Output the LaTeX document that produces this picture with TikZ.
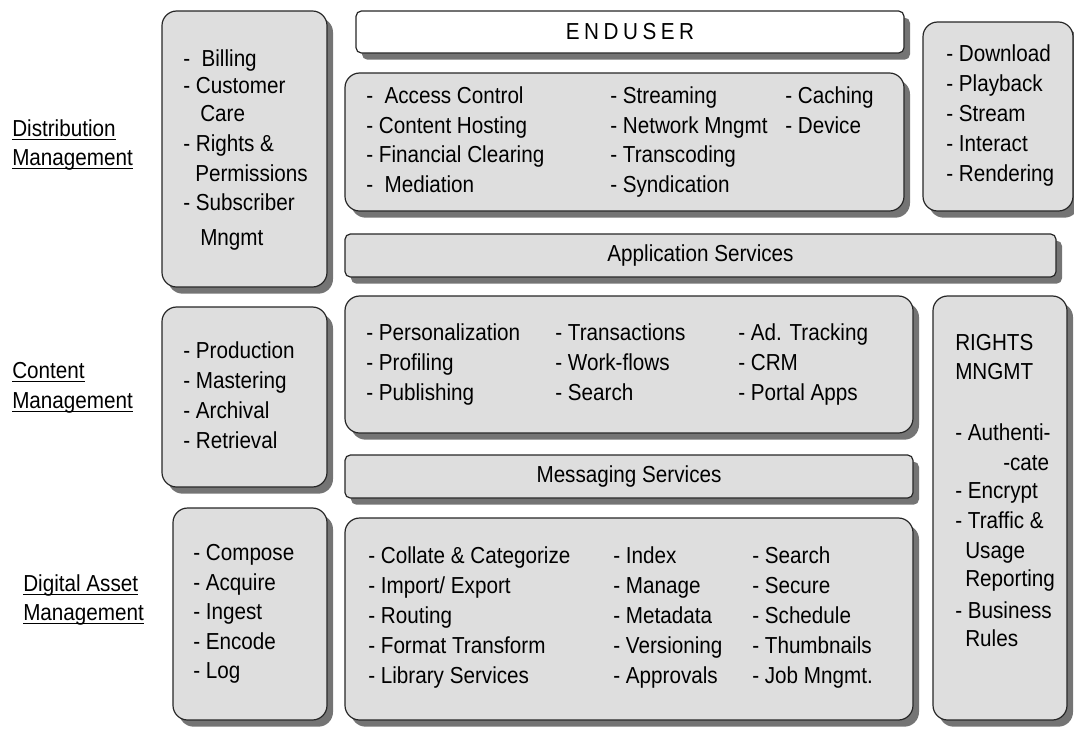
\documentclass[tikz,border=0pt]{standalone}
\usepackage{fontspec}
\setmainfont{Liberation Sans}
\usetikzlibrary{fit,shadows}
\definecolor{panelgray}{HTML}{DEDEDE}
\definecolor{shadowgray}{HTML}{747474}
\newcommand\undl[1]{{\setbox0\hbox{#1}\rlap{\rule[-2.2pt]{\wd0}{0.7pt}}\box0}}
\tikzset{
  panel/.style={draw=black!85, line width=0.9pt, fill=panelgray, rounded corners=11pt, inner sep=0pt,
    drop shadow={shadow xshift=4.5pt, shadow yshift=-5pt, fill=shadowgray, opacity=1}},
  bar/.style={panel, rounded corners=4pt},
  item/.style={anchor=mid west, inner sep=0pt, font=\fontsize{15.5}{18}\selectfont, yscale=1.12},
  heading/.style={item, anchor=center},
  sidelabel/.style={item}
}
\begin{document}
\begin{tikzpicture}[x=0.75pt,y=-0.75pt]
\useasboundingbox (0,0) rectangle (1074,729);

% boxes
\node[panel, fit={(162,11) (327,287)}] (distbox) {};
\node[panel, fit={(162,307) (327,487)}] (cmbox) {};
\node[panel, fit={(173,508) (327,720)}] (dambox) {};
\node[bar, fill=white, fit={(356,11) (904,53)}] (userbox) {};
\node[panel, fit={(345,73) (904,211)}] (svcbox) {};
\node[bar, fit={(345,234) (1056,277)}] (appbox) {};
\node[panel, fit={(923,22) (1073,211)}] (playbox) {};
\node[panel, fit={(345,296) (913,433)}] (portalbox) {};
\node[bar, fit={(345,455) (913,498)}] (msgbox) {};
\node[panel, fit={(345,518) (913,720)}] (assetbox) {};
\node[panel, fit={(933,296) (1067,720)}] (rightsbox) {};

% layer names
\node[sidelabel] (distA) at (12,133) {\undl{Distribution}};
\node[sidelabel] (distB) at (12,162) {\undl{Management}};
\node[sidelabel] (cmA) at (12,375) {\undl{Content}};
\node[sidelabel] (cmB) at (12,405) {\undl{Management}};
\node[sidelabel] (damA) at (23,588) {\undl{Digital Asset}};
\node[sidelabel] (damB) at (23,617) {\undl{Management}};

% distribution
\node[item] (dist1) at (183,63) {- \ Billing};
\node[item] (dist2) at (183,90) {- Customer};
\node[item] (dist3) at (200,118) {Care};
\node[item] (dist4) at (183,148) {- Rights \&};
\node[item] (dist5) at (195,178) {Permissions};
\node[item] (dist6) at (183,207) {- Subscriber};
\node[item] (dist7) at (200,242) {Mngmt};

\foreach \t [count=\i from 0] in {Production,Mastering,Archival,Retrieval}
  \node[item] (cm\i) at (183,{355+30*\i}) {- \t};
\foreach \t [count=\i from 0] in {Compose,Acquire,Ingest,Encode,Log}
  \node[item] (dam\i) at (193,{557+29.5*\i}) {- \t};

% enduser and services
\node[heading] (user) at (userbox.center) {E\kern3.4pt N\kern3.4pt D\kern3.4pt U\kern3.4pt S\kern3.4pt E\kern3.4pt R};
\foreach \t [count=\i from 0] in {-\ \ Access Control,- Content Hosting,- Financial Clearing,-\ \ Mediation}
  \node[item] (svcA\i) at (366,{100+29.5*\i}) {\t};
\foreach \t [count=\i from 0] in {Streaming,Network Mngmt,Transcoding,Syndication}
  \node[item] (svcB\i) at (610,{100+29.5*\i}) {- \t};
\foreach \t [count=\i from 0] in {Caching,Device}
  \node[item] (svcC\i) at (785,{100+29.5*\i}) {- \t};
\node[heading] (app) at (appbox.center) {Application Services};
\foreach \t [count=\i from 0] in {Download,Playback,Stream,Interact,Rendering}
  \node[item] (play\i) at (946,{58+29.8*\i}) {- \t};

% portal layer
\foreach \t [count=\i from 0] in {Personalization,Profiling,Publishing}
  \node[item] (portA\i) at (366,{337+30*\i}) {- \t};
\foreach \t [count=\i from 0] in {Transactions,Work-flows,Search}
  \node[item] (portB\i) at (555,{337+30*\i}) {- \t};
\foreach \t [count=\i from 0] in {Ad. Tracking,CRM,Portal Apps}
  \node[item] (portC\i) at (738,{337+30*\i}) {- \t};
\node[heading] (msg) at (msgbox.center) {Messaging Services};

% asset layer
\foreach \t [count=\i from 0] in {Collate \& Categorize,Import/ Export,Routing,Format Transform,Library Services}
  \node[item] (astA\i) at (368,{560+30*\i}) {- \t};
\foreach \t [count=\i from 0] in {Index,Manage,Metadata,Versioning,Approvals}
  \node[item] (astB\i) at (613,{560+30*\i}) {- \t};
\foreach \t [count=\i from 0] in {Search,Secure,Schedule,Thumbnails,Job Mngmt.}
  \node[item] (astC\i) at (752,{560+30*\i}) {- \t};

% rights
\node[item] (rt1) at (955,347) {RIGHTS};
\node[item] (rt2) at (955,376) {MNGMT};
\node[item] (rt3) at (955,437) {- Authenti-};
\node[item] (rt4) at (1003,467) {-cate};
\node[item] (rt5) at (955,495) {- Encrypt};
\node[item] (rt6) at (955,525) {- Traffic \&};
\node[item] (rt7) at (965,555) {Usage};
\node[item] (rt8) at (965,583) {Reporting};
\node[item] (rt9) at (955,615) {- Business};
\node[item] (rt10) at (965,643) {Rules};
\end{tikzpicture}
\end{document}
